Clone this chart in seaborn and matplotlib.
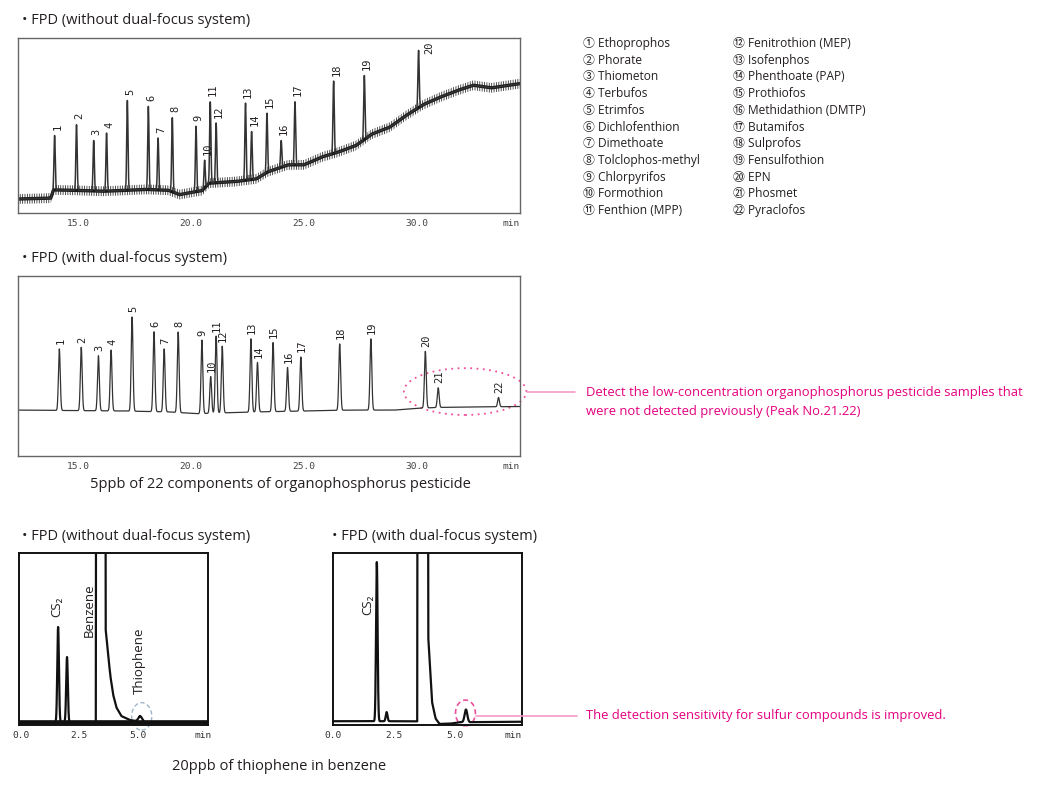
import numpy as np
import pandas as pd
import matplotlib
matplotlib.use('Agg')
from matplotlib import pyplot as plt
from matplotlib.patches import Ellipse
import seaborn as sns

W, H = 1040, 792
INK = '#231f20'
PINK = '#e4007f'
PINK_LIGHT = '#f49ac8'

# --- pesticide names (legend) ---
CIRCLED = ['①', '②', '③', '④', '⑤', '⑥', '⑦', '⑧', '⑨', '⑩', '⑪',
           '⑫', '⑬', '⑭', '⑮', '⑯', '⑰', '⑱', '⑲', '⑳', '㉑', '㉒']
PESTICIDES = ['Ethoprophos', 'Phorate', 'Thiometon', 'Terbufos', 'Etrimfos',
              'Dichlofenthion', 'Dimethoate', 'Tolclophos-methyl', 'Chlorpyrifos',
              'Formothion', 'Fenthion (MPP)', 'Fenitrothion (MEP)', 'Isofenphos',
              'Phenthoate (PAP)', 'Prothiofos', 'Methidathion (DMTP)', 'Butamifos',
              'Sulprofos', 'Fensulfothion', 'EPN', 'Phosmet', 'Pyraclofos']

# --- 5ppb pesticides, without dual-focus: retention time [min], apex [% full scale] ---
PEAKS_A = list(range(1, 21))
RT_A = [13.97, 14.94, 15.70, 16.27, 17.19, 18.12, 18.55, 19.18, 20.23, 20.61,
        20.86, 21.12, 22.42, 22.69, 23.37, 24.00, 24.61, 26.32, 27.68, 30.08]
APEX_A = [44.3, 50.6, 41.4, 45.8, 64.3, 60.9, 42.9, 54.6, 49.6, 30.2,
          63.7, 51.5, 62.8, 46.6, 57.1, 41.4, 63.7, 75.4, 78.6, 93.0]
BASE_T_A = [12.35, 13.8, 13.92, 14.8, 16.1, 18.0, 19.0, 19.5, 19.9, 20.5, 20.8, 22.0,
            22.9, 23.4, 24.3, 25.0, 25.8, 26.5, 27.3, 28.0, 28.8, 29.5, 30.3, 31.0,
            31.8, 32.5, 33.3, 34.6]
BASE_Y_A = [8.0, 8.5, 13.2, 13.0, 12.4, 13.5, 13.0, 10.5, 11.5, 12.8, 17.0, 18.0,
            19.5, 23.5, 27.5, 27.5, 32.0, 34.7, 38.5, 45.0, 49.0, 55.5, 62.0, 66.0,
            70.0, 73.0, 71.5, 74.0]

# --- 5ppb pesticides, with dual-focus ---
PEAKS_B = list(range(1, 23))
RT_B = [14.18, 15.15, 15.91, 16.47, 17.40, 18.37, 18.82, 19.44, 20.49, 20.88, 21.12,
        21.39, 22.66, 22.95, 23.64, 24.28, 24.87, 26.59, 27.97, 30.38, 30.95, 33.62]
APEX_B = [59.5, 60.4, 55.7, 58.9, 77.3, 69.0, 59.5, 68.9, 64.4, 44.1, 66.6,
          61.0, 65.1, 52.0, 63.0, 49.2, 55.0, 62.3, 65.1, 58.2, 37.9, 32.5]
BASE_T_B = [12.35, 17.0, 19.0, 20.3, 21.5, 23.0, 27.0, 29.0, 30.0, 31.0, 34.6]
BASE_Y_B = [25.5, 25.0, 24.5, 23.5, 24.0, 24.5, 25.5, 25.5, 26.5, 27.0, 27.5]

# --- 20ppb thiophene in benzene, without dual-focus ---
RT_C = [1.60, 1.98, 5.11]
APEX_C = [57.0, 39.5, 5.0]
SIGMA_C = [0.035, 0.035, 0.08]
BASE_T_C = [0.0, 8.0]
BASE_Y_C = [1.6, 1.6]
BENZ_T_C = [3.21, 3.23, 3.61, 3.63, 3.73, 3.83, 3.95, 4.09, 4.30, 4.66, 5.09]
BENZ_Y_C = [0, 300, 300, 54, 40, 27, 16, 8.6, 3.6, 1.3, 0.3]

# --- 20ppb thiophene in benzene, with dual-focus ---
RT_D = [1.79, 2.19, 5.43]
APEX_D = [94.7, 7.5, 9.0]
SIGMA_D = [0.032, 0.035, 0.055]
BASE_T_D = [0.0, 3.4, 4.3, 4.8, 5.2, 7.72]
BASE_Y_D = [2.2, 2.2, 0.6, 0.8, 1.6, 1.9]
BENZ_T_D = [3.44, 3.46, 3.87, 3.89, 3.98, 4.05, 4.19, 4.35]
BENZ_Y_D = [0, 300, 300, 50, 28, 12, 3, 0]


def build_trace(t, base_t, base_y, rts, apexes, sigmas, extra_t=None, extra_y=None):
    base = np.interp(t, base_t, base_y)
    y = base.copy()
    for rt, apex, s in zip(rts, apexes, sigmas):
        amp = apex - np.interp(rt, base_t, base_y)
        y += amp * np.exp(-0.5 * ((t - rt) / s) ** 2)
    if extra_t is not None:
        y += np.interp(t, extra_t, extra_y, left=0, right=0)
    return pd.DataFrame({'t': t, 'signal': y, 'base': base})


def px_axes(fig, left, top, right, bottom):
    return fig.add_axes([left / W, 1 - bottom / H, (right - left) / W, (bottom - top) / H])


def fig_text(fig, x, y, s, **kw):
    fig.text(x / W, 1 - y / H, s, va='center', **kw)


def style_long(ax, xlim, min_x):
    ax.set_xlim(*xlim)
    ax.set_ylim(0, 100)
    ax.set_yticks([])
    ax.set_xticks([15, 20, 25, 30, min_x])
    ax.set_xticklabels(['15.0', '20.0', '25.0', '30.0', 'min'],
                       fontfamily='DejaVu Sans Mono', fontsize=6.8, color='#444')
    ax.set_xticks(np.arange(12.5, 34, 2.5), minor=True)
    ax.tick_params(axis='x', which='major', length=0, pad=4)
    ax.tick_params(axis='x', which='minor', length=2.5, direction='in', color='#999')
    for sp in ax.spines.values():
        sp.set_color('#666')
        sp.set_linewidth(1.0)
    ax.set_xlabel('')
    ax.set_ylabel('')


def style_short(ax, xlim, min_x):
    ax.set_xlim(*xlim)
    ax.set_ylim(0, 100)
    ax.set_yticks([])
    ax.set_xticks([0, 2.5, 5.0, min_x])
    ax.set_xticklabels(['0.0', '2.5', '5.0', 'min'],
                       fontfamily='DejaVu Sans Mono', fontsize=6.8, color='#333')
    ax.set_xticks(np.arange(0, 7.6, 0.5), minor=True)
    ax.tick_params(axis='x', which='major', length=0, pad=4)
    ax.tick_params(axis='x', which='minor', length=3, width=1, direction='out', color='#222')
    for sp in ax.spines.values():
        sp.set_color('#111')
        sp.set_linewidth(1.4)
    ax.set_xlabel('')
    ax.set_ylabel('')


def label_peaks(ax, peaks, rts, apexes, dx, gap, shift=None):
    shift = shift or {}
    for n, rt, apex in zip(peaks, rts, apexes):
        sx, sy = shift.get(n, (0, 0))
        ax.text(rt + dx + sx, apex + gap + sy, str(n), rotation=90, ha='center', va='bottom',
                fontfamily='DejaVu Sans Mono', fontsize=7.5, color=INK)


sns.set_theme(style='white')
plt.rcParams['font.family'] = ['Open Sans', 'Noto Sans CJK JP', 'DejaVu Sans']
plt.rcParams['hatch.linewidth'] = 0.6
plt.rcParams['hatch.color'] = '#333333'

fig = plt.figure(figsize=(W / 100, H / 100), dpi=100)
fig.patch.set_facecolor('white')

# ---------- panel A ----------
t_long = np.linspace(12.35, 34.6, 4000)
tr_a = build_trace(t_long, BASE_T_A, BASE_Y_A, RT_A, APEX_A, [0.028] * len(RT_A))
ax_a = px_axes(fig, 18, 38, 520, 213)
# noisy baseline drawn as a hatched band around the baseline
ax_a.fill_between(tr_a['t'], tr_a['base'] - 2.8, tr_a['base'] + 2.8, facecolor='none',
                  edgecolor='#333', hatch='|||||||', linewidth=0)
sns.lineplot(data=tr_a, x='t', y='base', ax=ax_a, color='#1a1a1a', linewidth=2.4,
             estimator=None, sort=False)
sns.lineplot(data=tr_a, x='t', y='signal', ax=ax_a, color='#333', linewidth=1.1,
             estimator=None, sort=False)
style_long(ax_a, (12.35, 34.57), 34.18)
label_peaks(ax_a, PEAKS_A, RT_A, APEX_A, 0.12, 3, shift={20: (0.35, -5)})
fig_text(fig, 22, 20, '• FPD (without dual-focus system)', fontsize=10.5, color=INK)

# legend
for i, (c, name) in enumerate(zip(CIRCLED, PESTICIDES)):
    col, row = divmod(i, 11)
    fig_text(fig, 583 + col * 150, 43.5 + row * 16.7, f'{c} {name}', fontsize=8.6, color=INK)

# ---------- panel B ----------
tr_b = build_trace(t_long, BASE_T_B, BASE_Y_B, RT_B, APEX_B, [0.04] * len(RT_B))
ax_b = px_axes(fig, 18, 276, 520, 456)
sns.lineplot(data=tr_b, x='t', y='signal', ax=ax_b, color='#333', linewidth=0.9,
             estimator=None, sort=False)
style_long(ax_b, (12.35, 34.57), 34.18)
label_peaks(ax_b, PEAKS_B, RT_B, APEX_B, 0.04, 2.5)
ax_b.add_patch(Ellipse((32.14, 35.8), 5.42, 26, fill=False, edgecolor='#ee4f9a',
                       linestyle=(0, (1, 2.5)), linewidth=1.3, clip_on=False))
fig_text(fig, 22, 258, '• FPD (with dual-focus system)', fontsize=10.5, color=INK)
fig.add_artist(plt.Line2D([527 / W, 575 / W], [1 - 392 / H, 1 - 392 / H],
                          color=PINK_LIGHT, linewidth=1.2))
fig_text(fig, 586, 392, 'Detect the low-concentration organophosphorus pesticide samples that',
         fontsize=9.4, color=PINK)
fig_text(fig, 586, 411, 'were not detected previously (Peak No.21.22)', fontsize=9.4, color=PINK)
fig_text(fig, 90, 485, '5ppb of 22 components of organophosphorus pesticide',
         fontsize=10.5, color=INK)

# ---------- panel C ----------
t_c = np.linspace(-0.07, 8.0, 4000)
tr_c = build_trace(t_c, BASE_T_C, BASE_Y_C, RT_C, APEX_C, SIGMA_C, BENZ_T_C, BENZ_Y_C)
ax_c = px_axes(fig, 19, 553, 208, 725)
sns.lineplot(data=tr_c, x='t', y='base', ax=ax_c, color='#111', linewidth=3.0,
             estimator=None, sort=False)
sns.lineplot(data=tr_c, x='t', y='signal', ax=ax_c, color='#111', linewidth=1.6,
             estimator=None, sort=False)
style_short(ax_c, (-0.07, 8.0), 7.78)
ax_c.add_patch(Ellipse((5.17, 5), 0.86, 16, fill=False, edgecolor='#9fb4c8',
                       linestyle=(0, (3, 2)), linewidth=1.0, clip_on=False))
ax_c.text(1.55, 63, 'CS₂', rotation=90, ha='center', va='bottom', fontsize=9.5, color=INK)
ax_c.text(2.92, 51, 'Benzene', rotation=90, ha='center', va='bottom', fontsize=9.5, color=INK)
ax_c.text(5.06, 18, 'Thiophene', rotation=90, ha='center', va='bottom', fontsize=9.5, color=INK)
fig_text(fig, 22, 536, '• FPD (without dual-focus system)', fontsize=10.5, color=INK)
fig_text(fig, 172, 766, '20ppb of thiophene in benzene', fontsize=10.5, color=INK)

# ---------- panel D ----------
t_d = np.linspace(0.04, 7.72, 4000)
tr_d = build_trace(t_d, BASE_T_D, BASE_Y_D, RT_D, APEX_D, SIGMA_D, BENZ_T_D, BENZ_Y_D)
ax_d = px_axes(fig, 333, 553, 522, 725)
sns.lineplot(data=tr_d, x='t', y='signal', ax=ax_d, color='#111', linewidth=1.6,
             estimator=None, sort=False)
style_short(ax_d, (0.04, 7.72), 7.36)
ax_d.add_patch(Ellipse((5.41, 7.0), 0.81, 15, fill=False, edgecolor='#ec4f9c',
                       linestyle=(0, (3, 2)), linewidth=1.2, clip_on=False))
ax_d.text(1.42, 64, 'CS₂', rotation=90, ha='center', va='bottom', fontsize=9.5, color=INK)
fig_text(fig, 332, 536, '• FPD (with dual-focus system)', fontsize=10.5, color=INK)
fig.add_artist(plt.Line2D([476 / W, 577 / W], [1 - 716 / H, 1 - 716 / H],
                          color=PINK_LIGHT, linewidth=1.2))
fig_text(fig, 586, 716, 'The detection sensitivity for sulfur compounds is improved.',
         fontsize=9.4, color=PINK)

fig.savefig('out.png', dpi=100)
